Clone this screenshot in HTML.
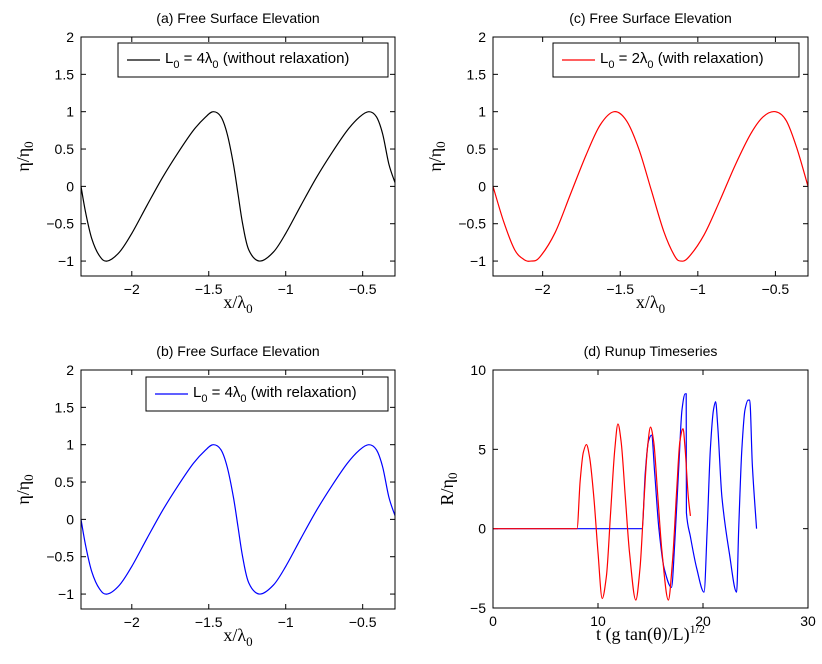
<!DOCTYPE html>
<html><head><meta charset="utf-8"><style>
html,body{margin:0;padding:0;background:#fff;}
svg{display:block;font-family:"Liberation Sans",sans-serif;}
</style></head><body>
<svg id="fig" width="822" height="664" viewBox="0 0 822 664"></svg>
<script>
const aX=[-2.33,-2.3,-2.26,-2.21,-2.16,-2.08,-2.0,-1.9,-1.8,-1.7,-1.6,-1.52,-1.47,-1.42,-1.38,-1.34,-1.31,-1.28,-1.24,-1.17,-1.08,-1.0,-0.9,-0.8,-0.7,-0.6,-0.52,-0.46,-0.41,-0.37,-0.33,-0.29];
const aY=[0,-0.35,-0.7,-0.93,-1,-0.88,-0.63,-0.25,0.12,0.45,0.75,0.93,1,0.93,0.7,0.3,-0.1,-0.5,-0.85,-1,-0.88,-0.63,-0.25,0.12,0.45,0.75,0.93,1,0.93,0.7,0.3,0.05];
const cX=[-2.32,-2.25,-2.18,-2.12,-2.075,-2.02,-1.92,-1.82,-1.72,-1.63,-1.54,-1.46,-1.38,-1.30,-1.22,-1.15,-1.11,-1.06,-0.96,-0.86,-0.76,-0.66,-0.58,-0.50,-0.43,-0.36,-0.29];
const cY=[0,-0.48,-0.85,-0.98,-1,-0.95,-0.62,-0.1,0.42,0.82,1,0.88,0.5,-0.05,-0.6,-0.93,-1,-0.95,-0.65,-0.2,0.28,0.7,0.93,1,0.88,0.5,0];
const redT=[0,8.0,8.3,8.6,8.9,9.2,9.6,10.0,10.4,10.8,11.2,11.6,11.9,12.2,12.6,13.0,13.6,14.0,14.4,14.7,15.0,15.3,15.7,16.1,16.7,17.1,17.5,17.8,18.1,18.3,18.6,18.8];
const redR=[0,0,3.0,4.8,5.3,4.5,2.0,-1.5,-4.4,-3.0,1.0,5.0,6.6,5.5,2.0,-1.5,-4.5,-2.5,2.0,5.0,6.4,5.5,2.0,-1.5,-4.5,-2.0,2.5,5.5,6.3,5.0,2.0,0.8];
const bluT=[0,14.2,14.5,14.8,15.1,15.4,15.8,16.3,17.0,17.3,17.7,18.0,18.3,18.4,18.42,18.8,19.4,20.1,20.4,20.7,21.0,21.2,21.4,21.8,22.5,23.2,23.4,23.7,24.0,24.3,24.45,24.7,25.1];
const bluR=[0,0,3.5,5.5,5.9,3.5,0,-2.5,-3.7,-1,4,7.5,8.5,8.5,1.0,-0.5,-2.5,-4.0,0,5,7.5,8.0,6.5,2,-1.5,-4.0,0,5,7.5,8.1,8.1,4,0];
const xTicksA=[-2,-1.5,-1,-0.5], yTicksA=[-1,-0.5,0,0.5,1,1.5,2];
const tTicks=[0,10,20,30], rTicks=[-5,0,5,10];
const NS="http://www.w3.org/2000/svg";
const svg=document.getElementById('fig');
function mk(tag,attrs,parent,text){const e=document.createElementNS(NS,tag);for(const k in attrs)e.setAttribute(k,attrs[k]);if(text!==undefined)e.textContent=text;(parent||svg).appendChild(e);return e;}
function fmt(v){return String(v).replace('-','\u2212');}
function smoothPath(pts){let d='M'+pts[0][0]+','+pts[0][1];for(let i=0;i<pts.length-1;i++){const p0=pts[Math.max(0,i-1)],p1=pts[i],p2=pts[i+1],p3=pts[Math.min(pts.length-1,i+2)];const c1=[p1[0]+(p2[0]-p0[0])/6,p1[1]+(p2[1]-p0[1])/6],c2=[p2[0]-(p3[0]-p1[0])/6,p2[1]-(p3[1]-p1[1])/6];d+=' C'+c1+' '+c2+' '+p2;}return d;}
function monoPath(pts){
  const n=pts.length,dk=[],m=[];
  for(let i=0;i<n-1;i++){const dx=Math.max(pts[i+1][0]-pts[i][0],0.01);dk.push((pts[i+1][1]-pts[i][1])/dx);}
  for(let i=0;i<n;i++){if(i===0)m.push(dk[0]);else if(i===n-1)m.push(dk[n-2]);else if(dk[i-1]*dk[i]<=0)m.push(0);else m.push(2/(1/dk[i-1]+1/dk[i]));}
  let d='M'+pts[0][0]+','+pts[0][1];
  for(let i=0;i<n-1;i++){const h=pts[i+1][0]-pts[i][0];d+=' C'+(pts[i][0]+h/3)+','+(pts[i][1]+m[i]*h/3)+' '+(pts[i+1][0]-h/3)+','+(pts[i+1][1]-m[i+1]*h/3)+' '+pts[i+1][0]+','+pts[i+1][1];}
  return d;}
function panel(o){
  const g=mk('g',{});
  
  
  const sx=v=>o.L+(v-o.x0)/(o.x1-o.x0)*(o.R-o.L);
  const sy=v=>o.B-(v-o.y0)/(o.y1-o.y0)*(o.B-o.T);
  const t=mk('text',{x:(o.L+o.R)/2,y:o.T-14,'text-anchor':'middle','font-size':14},g,o.title);
  
  
  o.xt.forEach(v=>{const x=sx(v);mk('line',{x1:x,x2:x,y1:o.B,y2:o.B-5,stroke:'#000'},g);mk('line',{x1:x,x2:x,y1:o.T,y2:o.T+5,stroke:'#000'},g);const l=mk('text',{x:x,y:o.B+18,'text-anchor':'middle','font-size':14},g,fmt(v));});
  o.yt.forEach(v=>{const y=sy(v);mk('line',{x1:o.L,x2:o.L+5,y1:y,y2:y,stroke:'#000'},g);mk('line',{x1:o.R,x2:o.R-5,y1:y,y2:y,stroke:'#000'},g);const l=mk('text',{x:o.L-7,y:y+5,'text-anchor':'end','font-size':14},g,fmt(v));});
  o.series.forEach(s=>{const pts=s.x.map((v,i)=>[sx(v).toFixed(2),sy(s.y[i]).toFixed(2)].map(Number));const d=s.mono?monoPath(pts):smoothPath(pts);const p=mk('path',{d:d,fill:'none',stroke:s.color,'stroke-width':1.2},g);});
  const box=mk('rect',{x:o.L,y:o.T,width:o.R-o.L,height:o.B-o.T,fill:'none',stroke:'#000','stroke-width':1},g);
  
  const yl=mk('text',{transform:`translate(${o.L-o.yoff},${(o.T+o.B)/2}) rotate(-90)`,'text-anchor':'middle','font-size':18,'font-family':'Liberation Serif,serif'},g);
  
  yl.innerHTML=o.ylab;
  const xl=mk('text',{x:(o.L+o.R)/2,y:o.B+32,'text-anchor':'middle','font-size':18,'font-family':'Liberation Serif,serif'},g);
  
  xl.innerHTML=o.xlab;
  if(o.leg){const lg=mk('g',{},g);
    mk('rect',{x:o.leg.x,y:o.leg.y,width:o.leg.w,height:34,fill:'#fff',stroke:'#000'},lg);
    mk('line',{x1:o.leg.x+9,x2:o.leg.x+42,y1:o.leg.y+17,y2:o.leg.y+17,stroke:o.leg.c,'stroke-width':1.2},lg);
    const lt=mk('text',{x:o.leg.x+47,y:o.leg.y+20,'font-size':15},lg);lt.innerHTML=o.leg.t;}
}
const eta='η/η<tspan font-size="13" dy="4">0</tspan>';
const xlam='x/λ<tspan font-size="13" dy="5">0</tspan>';
panel({name:'panel-a',L:81,R:395,T:37,B:276,yoff:52,x0:-2.33,x1:-0.29,y0:-1.2,y1:2,xt:xTicksA,yt:yTicksA,title:'(a)  Free Surface Elevation',ylab:eta,xlab:xlam,
 series:[{x:aX,y:aY,color:'#000',name:'series-without-relaxation'}],
 leg:{x:118,y:43,w:270,c:'#000',t:'L<tspan font-size="11" dy="5">0</tspan><tspan dy="-5"> = 4λ</tspan><tspan font-size="11" dy="5">0</tspan><tspan dy="-5"> (without relaxation)</tspan>'}});
panel({name:'panel-c',L:493,R:808,T:37,B:276,yoff:52,x0:-2.32,x1:-0.29,y0:-1.2,y1:2,xt:xTicksA,yt:yTicksA,title:'(c)  Free Surface Elevation',ylab:eta,xlab:xlam,
 series:[{x:cX,y:cY,color:'#f00',name:'series-l2-with-relaxation'}],
 leg:{x:553,y:43,w:246,c:'#f00',t:'L<tspan font-size="11" dy="5">0</tspan><tspan dy="-5"> = 2λ</tspan><tspan font-size="11" dy="5">0</tspan><tspan dy="-5"> (with relaxation)</tspan>'}});
panel({name:'panel-b',L:81,R:395,T:370,B:609,yoff:52,x0:-2.33,x1:-0.29,y0:-1.2,y1:2,xt:xTicksA,yt:yTicksA,title:'(b)  Free Surface Elevation',ylab:eta,xlab:xlam,
 series:[{x:aX,y:aY,color:'#00f',name:'series-with-relaxation'}],
 leg:{x:146,y:377,w:242,c:'#00f',t:'L<tspan font-size="11" dy="5">0</tspan><tspan dy="-5"> = 4λ</tspan><tspan font-size="11" dy="5">0</tspan><tspan dy="-5"> (with relaxation)</tspan>'}});
panel({name:'panel-d',L:493,R:808,T:370,B:608,yoff:40,x0:0,x1:30,y0:-5,y1:10,xt:tTicks,yt:rTicks,title:'(d)  Runup Timeseries',ylab:'R/η<tspan font-size="13" dy="4">0</tspan>',xlab:'t (g tan(θ)/L)<tspan font-size="12" dy="-7">1/2</tspan>',
 series:[{x:bluT,y:bluR,color:'#00f',mono:true,name:'runup-blue'},{x:redT,y:redR,color:'#f00',mono:true,name:'runup-red'}]});
</script>
</body></html>
